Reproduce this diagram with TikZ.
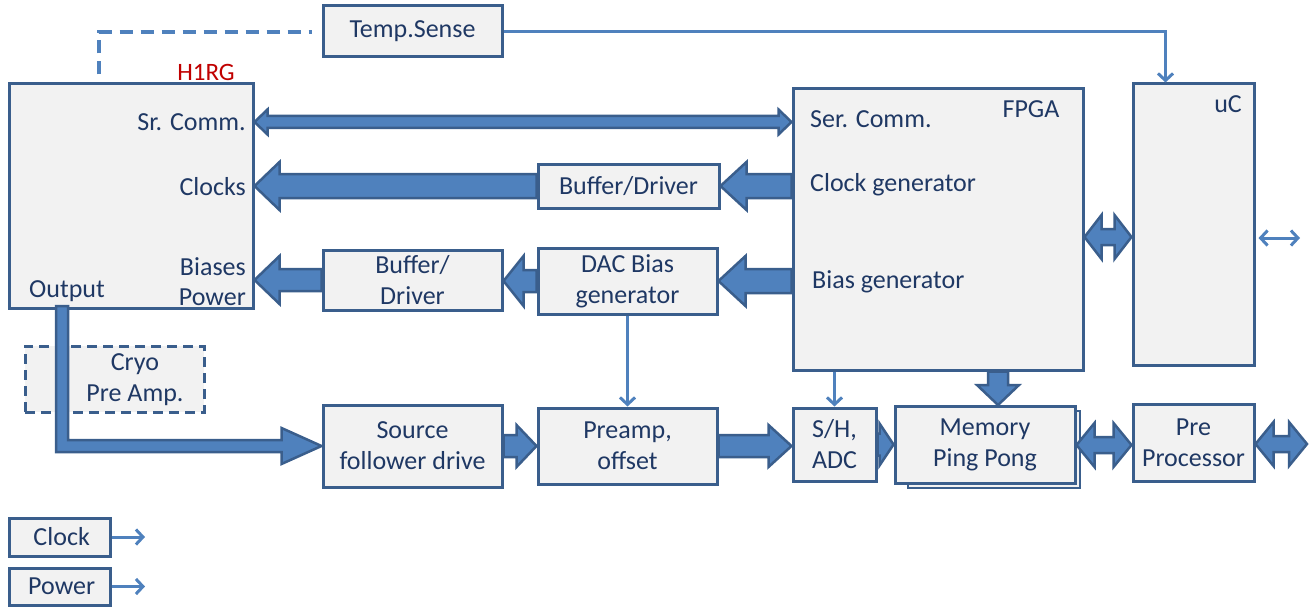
\documentclass[tikz,border=0pt]{standalone}
\usepackage{fontspec}
\setmainfont{Carlito}
\usetikzlibrary{calc,arrows.meta}
\definecolor{boxline}{HTML}{3A5E8C}
\definecolor{boxfill}{HTML}{F2F2F2}
\definecolor{arrfill}{HTML}{4F81BD}
\definecolor{txt}{HTML}{1F3864}
\definecolor{lbl}{HTML}{C00000}
\tikzset{
	blk/.style={draw=boxline, fill=boxfill, line width=3pt, align=center, text=txt, inner sep=0pt, font=\fontsize{26}{31}\selectfont},
	lab/.style={text=txt, inner sep=0pt, align=center, font=\fontsize{26}{31}\selectfont},
	fat/.style={draw=boxline, fill=arrfill, line width=2.5pt, line join=miter},
	sig/.style={draw=arrfill, line width=3pt, -{Straight Barb[length=7pt,width=15pt]}},
	dashline/.style={draw=arrfill, line width=3.5pt, dash pattern=on 13pt off 8pt},
}
\def\harrow(#1)(#2)(#3:#4:#5){\draw[fat] let \p1=(#1), \p2=(#2), \n1={sign(\x2-\x1)*#5} in (\x1,\y1+#3) -- (\x2-\n1,\y1+#3) -- (\x2-\n1,\y1+#4) -- (\x2,\y1) -- (\x2-\n1,\y1-#4) -- (\x2-\n1,\y1-#3) -- (\x1,\y1-#3) -- cycle;}
\def\hdarrow(#1)(#2)(#3:#4:#5){\draw[fat] let \p1=(#1), \p2=(#2), \n1={sign(\x2-\x1)*#5} in (\x1,\y1) -- (\x1+\n1,\y1+#4) -- (\x1+\n1,\y1+#3) -- (\x2-\n1,\y1+#3) -- (\x2-\n1,\y1+#4) -- (\x2,\y1) -- (\x2-\n1,\y1-#4) -- (\x2-\n1,\y1-#3) -- (\x1+\n1,\y1-#3) -- (\x1+\n1,\y1-#4) -- cycle;}
\def\varrow(#1)(#2)(#3:#4:#5){\draw[fat] let \p1=(#1), \p2=(#2), \n1={sign(\y2-\y1)*#5} in (\x1+#3,\y1) -- (\x1+#3,\y2-\n1) -- (\x1+#4,\y2-\n1) -- (\x2,\y2) -- (\x1-#4,\y2-\n1) -- (\x1-#3,\y2-\n1) -- (\x1-#3,\y1) -- cycle;}

\begin{document}
\begin{tikzpicture}[x=1pt, y=-1pt]
	%%%%% START %%%%%
	\useasboundingbox (0,0) rectangle (1309,607);
	
	\node[blk, minimum width=244, minimum height=224] (h1rg) at (131,196) {};
	\node[text=lbl, inner sep=0pt, font=\fontsize{25}{28}\selectfont] (h1rgname) at (206,72) {H1RG};
	\node[lab, anchor=east] (srcomm) at (246,122) {Sr. Comm.};
	\node[lab, anchor=east] (clocks) at (246,187) {Clocks};
	\node[lab, anchor=east] (biases) at (246,267) {Biases};
	\node[lab, anchor=east] (power) at (246,297) {Power};
	\node[lab, anchor=west] (output) at (29,291) {Output};
	
	\node[blk, minimum width=179, minimum height=51] (temp) at (412.5,31.5) {Temp.Sense};
	
	\node[blk, minimum width=290, minimum height=281] (fpga) at (938,229.5) {};
	\node[lab] (fpganame) at (1031,109) {FPGA};
	\node[lab, anchor=west] (sercomm) at (810,119) {Ser. Comm.};
	\node[lab, anchor=west] (clkgen) at (810,185) {Clock generator};
	\node[lab, anchor=west] (biasgen) at (812,282) {Bias generator};
	
	\node[blk, minimum width=121, minimum height=281] (uc) at (1193.5,224.5) {};
	\node[lab] (ucname) at (1228,104) {uC};
	
	\node[blk, minimum width=181, minimum height=44] (bufclk) at (628.5,186) {Buffer/Driver};
	\node[blk, minimum width=179, minimum height=60] (bufbias) at (412.5,280) {Buffer/\\Driver};
	\node[blk, minimum width=179, minimum height=66] (dac) at (627.5,281) {DAC Bias\\generator};
	\node[blk, dash pattern=on 10pt off 6pt, minimum width=179, minimum height=66] (cryo) at (114.5,379) {};
	\node[lab] (cryotext) at (135,380) {Cryo\\Pre Amp.};
	
	\node[blk, minimum width=179, minimum height=82] (source) at (412.5,446) {Source\\follower drive};
	\node[blk, minimum width=179, minimum height=76] (preamp) at (627.5,446) {Preamp,\\offset};
	\node[blk, minimum width=83, minimum height=73] (shadc) at (834.5,444.5) {S/H,\\ADC};
	\node[blk, line width=2pt, minimum width=172, minimum height=77] (memback) at (994,449.5) {};
	\node[blk, minimum width=180, minimum height=77] (mem) at (985,445) {Memory\\Ping Pong};
	\node[blk, minimum width=121, minimum height=77] (prep) at (1193.5,442.5) {Pre\\Processor};
	
	\node[blk, minimum width=101, minimum height=38] (clk) at (59.5,537) {\,Clock};
	\node[blk, minimum width=101, minimum height=37] (pwr) at (59.5,586.5) {\,Power};
	\coordinate (clkend) at (145,537);
	\coordinate (pwrend) at (145,586.5);
	
	% thin lines
	\coordinate (dtop) at (99,32);
	\draw[dashline] ($(h1rg.north -| dtop)+(0,-8)$) -- (dtop) -- ($(temp.west |- dtop)+(-10,0)$);
	\draw[sig] (temp.east) -| ($(uc.north)+(-28,0)$);
	\draw[sig] (dac.south) -- (preamp.north);
	\draw[sig] (fpga.south -| shadc.north) -- (shadc.north);
	\coordinate (ucout) at (1300,238);
	\draw[sig, {Straight Barb[length=7pt,width=15pt]}-{Straight Barb[length=7pt,width=15pt]}] ($(uc.east |- ucout)+(3,0)$) -- (ucout);
	\draw[sig] (clk.east) -- (clkend);
	\draw[sig] (pwr.east) -- (pwrend);
	
	% block arrows
	\hdarrow(h1rg.east |- srcomm)(fpga.west |- srcomm)(6:12.5:13)
	\harrow(fpga.west |- bufclk.east)(bufclk.east)(12:24:26)
	\harrow(bufclk.west)(h1rg.east |- bufclk.west)(12:24:25)
	\harrow(fpga.west |- dac.east)(dac.east)(12:25:27)
	\harrow(dac.west)(bufbias.east)(11:25:20)
	\harrow(bufbias.west)(h1rg.east |- bufbias.west)(11:24:25)
	\coordinate (outp) at (62,306);
	\draw[fat] let \p1=(outp), \p2=(source.west) in (\x1-6,\y1) -- (\x1-6,\y2-6) -- (\x2-40,\y2-6) -- (\x2-40,\y2-18) -- (\x2,\y2) -- (\x2-40,\y2+18) -- (\x2-40,\y2+6) -- (\x1+6,\y2+6) -- (\x1+6,\y1) -- cycle;
	\harrow(source.east)(preamp.west)(11:21:20)
	\harrow(preamp.east)(shadc.west |- preamp.east)(11:21:23)
	\harrow(shadc.east)(mem.west |- shadc.east)(11:21:14)
	\varrow(fpga.south -| 998,0)(998,405)(10:21:20)
	\hdarrow(fpga.east |- 0,237)(uc.west |- 0,237)(8:22:17)
	\hdarrow(mem.east)(prep.west |- mem.east)(8:22:18)
	\coordinate (prepout) at (1307,444);
	\hdarrow(prep.east |- prepout)(prepout)(8:22:18)
	
	%%%%% END %%%%%
\end{tikzpicture}
\end{document}
